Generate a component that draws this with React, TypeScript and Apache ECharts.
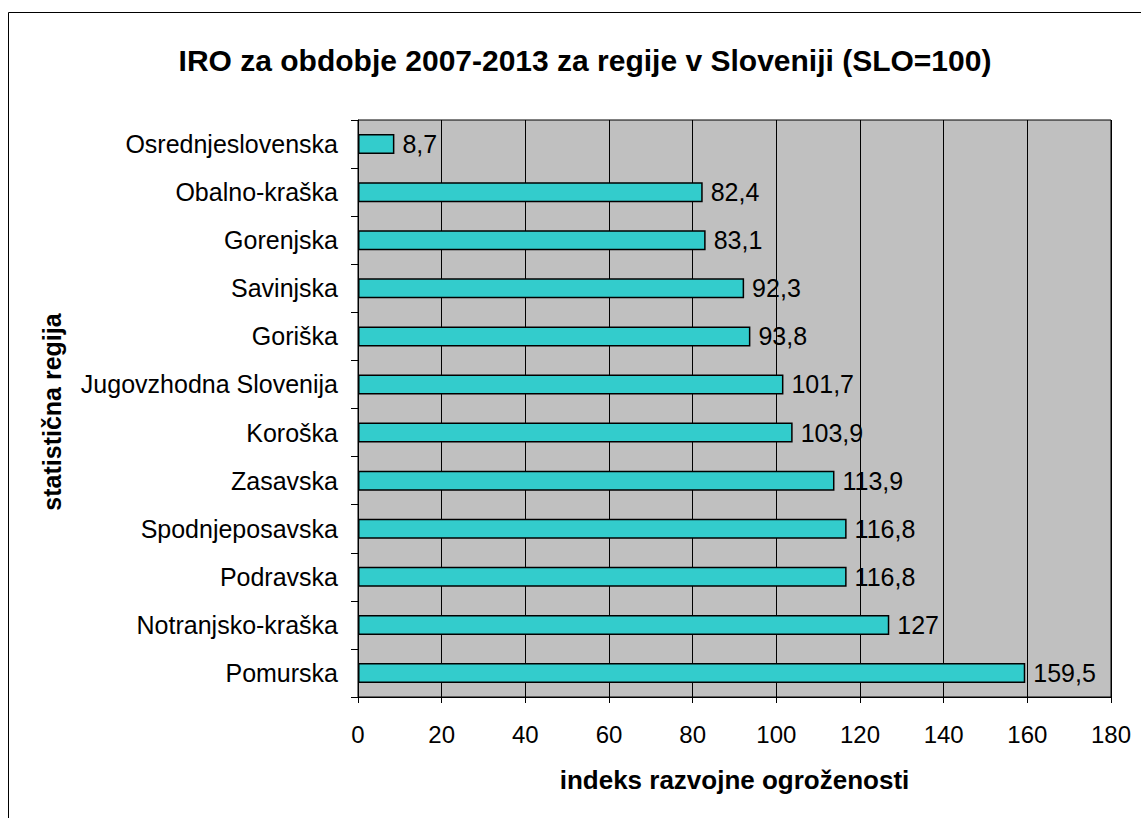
import React, { useEffect, useRef } from "react";
import * as echarts from "echarts";

const titleText = "IRO za obdobje 2007-2013 za regije v Sloveniji (SLO=100)";
const regions = [
  "Osrednjeslovenska",
  "Obalno-kraška",
  "Gorenjska",
  "Savinjska",
  "Goriška",
  "Jugovzhodna Slovenija",
  "Koroška",
  "Zasavska",
  "Spodnjeposavska",
  "Podravska",
  "Notranjsko-kraška",
  "Pomurska",
];
const iroValues = [8.7, 82.4, 83.1, 92.3, 93.8, 101.7, 103.9, 113.9, 116.8, 116.8, 127, 159.5];
const xAxisName = "indeks razvojne ogroženosti";
const yAxisName = "statistična regija";
const xMin = 0;
const xMax = 180;
const xInterval = 20;

const FONT = "'Liberation Sans', Arial, sans-serif";

export default function App() {
  const ref = useRef<HTMLDivElement>(null);
  useEffect(() => {
    if (!ref.current) return;
    const chart = echarts.init(ref.current, undefined, { renderer: "svg" });
    chart.setOption({
      animation: false,
      backgroundColor: "#ffffff",
      textStyle: { fontFamily: FONT },
      title: {
        text: titleText,
        left: 580,
        top: 40,
        textAlign: "center",
        textStyle: { fontFamily: FONT, fontSize: 30, fontWeight: "bold", color: "#000" },
      },
      graphic: [
        {
          type: "rect",
          shape: { x: 8.5, y: 12.5, width: 1200, height: 900 },
          style: { fill: "none", stroke: "#000", lineWidth: 1 },
          silent: true,
        },
        {
          type: "text",
          x: 52,
          y: 412,
          rotation: Math.PI / 2,
          style: {
            text: yAxisName,
            font: "bold 25px " + FONT,
            fill: "#000",
            textAlign: "center",
            textVerticalAlign: "middle",
          },
        },
      ],
      grid: {
        left: 358,
        top: 120,
        right: 30,
        bottom: 121,
        show: true,
        backgroundColor: "#C0C0C0",
        borderColor: "#000",
        borderWidth: 1,
        containLabel: false,
      },
      xAxis: {
        type: "value",
        min: xMin,
        max: xMax,
        interval: xInterval,
        name: xAxisName,
        nameLocation: "middle",
        nameGap: 70,
        nameTextStyle: { fontFamily: FONT, fontSize: 26, fontWeight: "bold", color: "#000" },
        axisLine: { show: true, lineStyle: { color: "#000", width: 1 } },
        axisTick: { show: true, length: 6, lineStyle: { color: "#000" } },
        axisLabel: {
          margin: 25,
          fontFamily: FONT,
          fontSize: 24,
          color: "#000",
          formatter: (v: number) => String(v),
        },
        splitLine: { show: true, lineStyle: { color: "#000", width: 1 } },
      },
      yAxis: {
        type: "category",
        data: regions,
        inverse: true,
        axisLine: { show: true, lineStyle: { color: "#000", width: 1 } },
        axisTick: { show: true, length: 7, alignWithLabel: false, lineStyle: { color: "#000" } },
        axisLabel: {
          margin: 20,
          fontFamily: FONT,
          fontSize: 25,
          color: "#000",
        },
        splitLine: { show: false },
      },
      series: [
        {
          type: "bar",
          data: iroValues,
          barWidth: 20,
          itemStyle: { color: "#33CCCC", borderColor: "#000", borderWidth: 1.5 },
          label: {
            show: true,
            position: "right",
            distance: 8,
            fontFamily: FONT,
            fontSize: 25,
            color: "#000",
            formatter: (p: any) => String(p.value).replace(".", ","),
          },
        },
      ],
    });
    return () => chart.dispose();
  }, []);
  return (
    <div
      ref={ref}
      style={{ position: "absolute", left: 0, top: 0, width: 1141, height: 818 }}
    />
  );
}
